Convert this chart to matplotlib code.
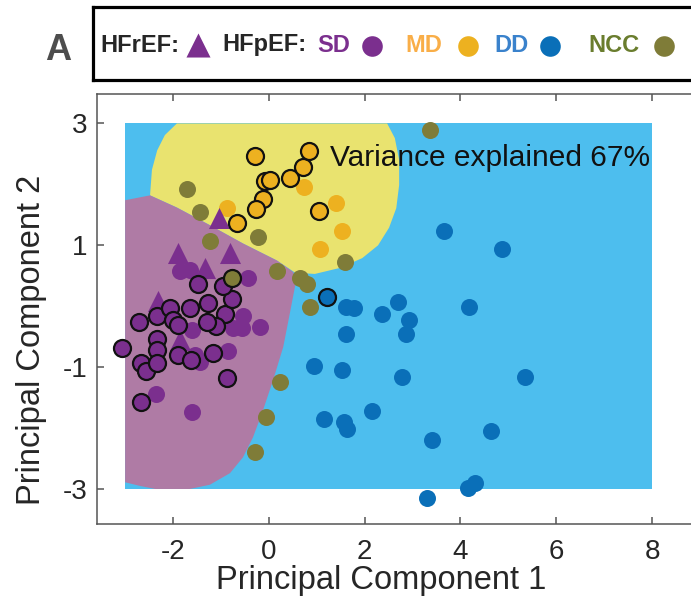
import matplotlib.pyplot as plt
from matplotlib.patches import Rectangle, Polygon

plt.rcParams['font.family'] = ['Liberation Sans', 'DejaVu Sans']
plt.rcParams['axes.unicode_minus'] = False

# Region of the classifier grid
grid_x = [-3, 8]
grid_y = [-3, 3]

# Decision region outlines (PC1, PC2)
md_region_x = [-1.92, -2.17, -2.33, -2.44, -2.48, -1.92, -1.23, -0.54, 0.17, 0.55,
               0.96, 1.49, 1.95, 2.28, 2.51, 2.66, 2.72, 2.72, 2.63, 2.47]
md_region_y = [3.0, 2.81, 2.56, 2.24, 1.82, 1.62, 1.33, 1.03, 0.75, 0.55,
               0.53, 0.63, 0.79, 1.00, 1.29, 1.61, 1.99, 2.40, 2.76, 3.0]
sd_region_x = [-3.0, -2.48, -1.92, -1.23, -0.54, 0.17, 0.51, 0.55, 0.44, 0.30, 0.09,
               -0.14, -0.33, -0.54, -0.81, -1.23, -1.65, -2.37, -2.69, -3.0]
sd_region_y = [1.74, 1.82, 1.62, 1.33, 1.03, 0.75, 0.56, 0.34, -0.11, -0.67, -1.21,
               -1.75, -2.15, -2.48, -2.74, -2.93, -3.0, -3.0, -2.95, -2.89]

# HFpEF patients - SD
sd_x = [-2.35, -1.60, -0.85, -0.54, -0.18, -0.75, -0.56, -1.60, -1.44, -0.43, -1.85, -1.65, -1.54]
sd_y = [-1.44, -1.74, -0.74, -0.16, -0.34, -0.36, -0.36, -0.39, -0.92, 0.46, 0.58, 0.59, -0.80]
sd_out_x = [-3.06, -2.71, -2.33, -2.06, -2.00, -1.90, -1.65, -1.27, -0.91, -1.10, -1.29, -0.77,
            -0.96, -1.48, -2.33, -2.33, -2.67, -2.56, -2.33, -1.90, -1.62, -1.16, -0.87, -2.67]
sd_out_y = [-0.69, -0.26, -0.16, -0.03, -0.23, -0.31, -0.03, 0.05, -0.13, -0.32, -0.26, 0.12,
            0.33, 0.36, -0.54, -0.72, -0.93, -1.06, -0.93, -0.80, -0.88, -0.77, -1.18, -1.57]

# HFrEF patients
hfref_x = [-1.05, -1.89, -0.81, -1.33, -2.31, -1.85]
hfref_y = [1.45, 0.87, 0.87, 0.63, 0.09, -0.55]

# MD
md_x = [0.74, 1.40, 1.53, 1.07, -0.87]
md_y = [1.95, 1.69, 1.23, 0.94, 1.61]
md_out_x = [-0.29, -0.08, 0.03, -0.12, -0.27, -0.66, 0.44, 0.72, 0.84, 1.05]
md_out_y = [2.46, 2.05, 2.07, 1.76, 1.59, 1.37, 2.10, 2.28, 2.55, 1.56]

# DD
dd_x = [3.66, 4.87, 1.61, 1.78, 2.70, 2.37, 2.93, 2.87, 4.18, 1.61, 0.94, 1.53,
        2.78, 5.35, 2.16, 1.16, 1.57, 1.64, 3.41, 4.64, 4.16, 4.31, 3.30]
dd_y = [1.23, 0.94, -0.01, -0.03, 0.07, -0.13, -0.23, -0.46, -0.01, -0.46, -0.98, -1.05,
        -1.16, -1.16, -1.72, -1.85, -1.90, -2.02, -2.20, -2.05, -2.98, -2.90, -3.15]
dd_out_x = [1.21]
dd_out_y = [0.15]

# NCC
ncc_x = [-1.71, -1.44, -1.23, -0.23, 0.17, 0.65, 0.80, 0.86, 1.59, 3.37, 0.23, -0.06, -0.29]
ncc_y = [1.92, 1.55, 1.07, 1.14, 0.58, 0.46, 0.37, -0.01, 0.73, 2.89, -1.24, -1.82, -2.40]
ncc_out_x = [-0.77]
ncc_out_y = [0.46]

C_SD = '#7B2F8E'
C_MD = '#EDB120'
C_DD = '#0A6FB8'
C_NCC = '#7F7C38'

fig = plt.figure(figsize=(6.91, 6.07), dpi=100)
ax = fig.add_axes([97/691, 1-524/607, 603/691, 430/607])

# background regions
ax.add_patch(Rectangle((grid_x[0], grid_y[0]), grid_x[1]-grid_x[0], grid_y[1]-grid_y[0],
                       facecolor='#4DBEEE', edgecolor='none', zorder=1))
ax.add_patch(Polygon(list(zip(md_region_x, md_region_y)), closed=True,
                     facecolor='#E9E36F', edgecolor='none', zorder=2))
ax.add_patch(Polygon(list(zip(sd_region_x, sd_region_y)), closed=True,
                     facecolor='#AF7BA5', edgecolor='none', zorder=2))

s = 150
ax.scatter(dd_x, dd_y, s=s, c=C_DD, linewidths=0, zorder=3)
ax.scatter(ncc_x, ncc_y, s=s, c=C_NCC, linewidths=0, zorder=3)
ax.scatter(md_x, md_y, s=s, c=C_MD, linewidths=0, zorder=3)
ax.scatter(sd_x, sd_y, s=s, c=C_SD, linewidths=0, zorder=3)
ax.scatter(hfref_x, hfref_y, s=230, c=C_SD, marker='^', linewidths=0, zorder=3)

ax.scatter(sd_out_x, sd_out_y, s=s, c=C_SD, edgecolors='#111111', linewidths=1.6, zorder=4)
ax.scatter(md_out_x, md_out_y, s=s, c=C_MD, edgecolors='#111111', linewidths=1.6, zorder=4)
ax.scatter(dd_out_x, dd_out_y, s=s, c=C_DD, edgecolors='#111111', linewidths=1.6, zorder=4)
ax.scatter(ncc_out_x, ncc_out_y, s=s, c=C_NCC, edgecolors='#111111', linewidths=1.6, zorder=4)

ax.text(1.28, 2.43, 'Variance explained 67%', fontsize=21.5, va='center', ha='left',
        color='#111111', zorder=5)

ax.set_xlim(-3.587, 9.0)
ax.set_ylim(-3.575, 3.484)
ax.set_xticks([-2, 0, 2, 4, 6, 8])
ax.set_yticks([-3, -1, 1, 3])
ax.tick_params(direction='in', length=5, width=1.1, color='#555555', labelcolor='#262626',
               labelsize=20, top=True)
ax.tick_params(axis='x', pad=11)
ax.tick_params(axis='y', pad=7)
for sp in ax.spines.values():
    sp.set_color('#555555')
    sp.set_linewidth(1.1)

fig.text(381/691, 1-580/607, 'Principal Component 1', fontsize=23.5, ha='center', va='center',
         color='#262626')
fig.text(32/691, 1-340/607, 'Principal Component 2', fontsize=23.5, ha='center', va='center',
         rotation=90, color='#262626')

# panel letter
fig.text(58/691, 1-51/607, 'A', fontsize=26, fontweight='bold', ha='center', va='center',
         color='#4D4D4D')

# group key drawn in its own boxed axes (pixel units)
lax = fig.add_axes([93/691, 1-80/607, 620/691, 73/607])
lax.set_xlim(93, 713)
lax.set_ylim(80, 7)
lax.set_xticks([])
lax.set_yticks([])
for sp in lax.spines.values():
    sp.set_color('black')
    sp.set_linewidth(2.3)

ty = 45
kw = dict(fontsize=17, fontweight='bold', va='center', ha='left')
lax.text(100, ty, 'HFrEF:', color='#262626', **kw)
lax.scatter([198], [ty], s=300, marker='^', c=C_SD, linewidths=0)
lax.text(222, ty, 'HFpEF:', color='#262626', **kw)
lax.text(317, ty, 'SD', color='#7B2F8E', **kw)
lax.scatter([372], [ty + 1], s=220, c=C_SD, linewidths=0)
lax.text(405, ty, 'MD', color='#F9AE48', **kw)
lax.scatter([468], [ty + 1], s=220, c=C_MD, linewidths=0)
lax.text(494, ty, 'DD', color='#3A82CC', **kw)
lax.scatter([550], [ty + 1], s=220, c=C_DD, linewidths=0)
lax.text(588, ty, 'NCC', color='#6A7D2E', **kw)
lax.scatter([664], [ty + 1], s=220, c=C_NCC, linewidths=0)

fig.savefig('out.png', dpi=100)
